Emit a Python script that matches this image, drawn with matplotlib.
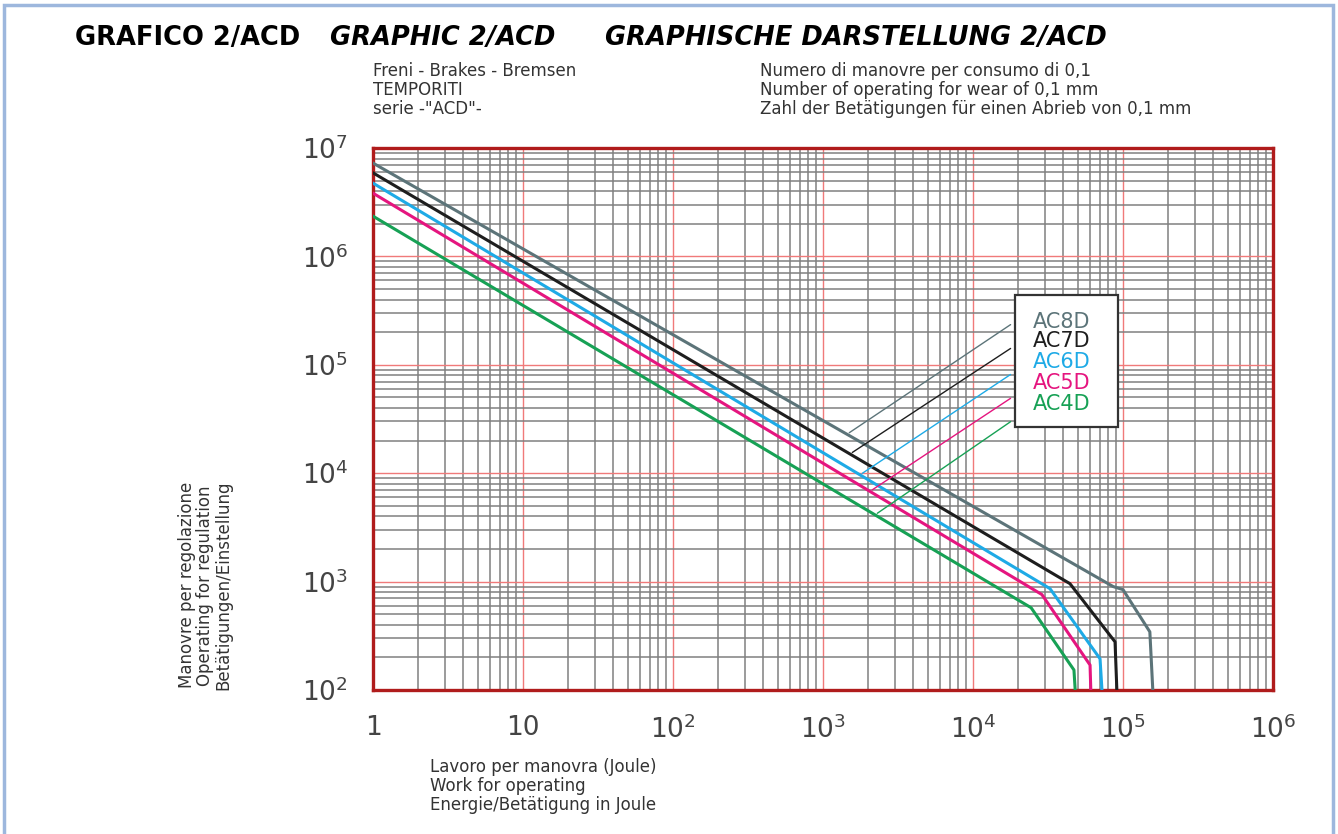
import numpy as np
import matplotlib.pyplot as plt
from matplotlib.ticker import LogLocator, NullFormatter
from matplotlib.patches import Rectangle

# curve data (work per operation [J], number of operations)
series = ['AC8D', 'AC7D', 'AC6D', 'AC5D', 'AC4D']
work_ac8d = [1, 8.6e4, 1.0e5, 1.51e5, 1.58e5]
ops_ac8d = [7.26e6, 900, 843, 344, 100]
work_ac7d = [1, 4.43e4, 8.85e4, 9.1e4]
ops_ac7d = [5.9e6, 957, 278, 100]
work_ac6d = [1, 3.26e4, 7.03e4, 7.24e4]
ops_ac6d = [4.74e6, 861, 194, 100]
work_ac5d = [1, 2.88e4, 6.03e4, 6.1e4]
ops_ac5d = [3.83e6, 759, 170, 100]
work_ac4d = [1, 2.44e4, 4.71e4, 4.8e4]
ops_ac4d = [2.35e6, 574, 153, 100]
# where the legend leader lines touch each curve
leader_work = [1445, 1513, 1765, 2056, 2222]

xtick_vals = [1, 10, 1e2, 1e3, 1e4, 1e5, 1e6]
xtick_labels = ['1', '10', '$10^2$', '$10^3$', '$10^4$', '$10^5$', '$10^6$']
ytick_vals = [1e2, 1e3, 1e4, 1e5, 1e6, 1e7]
ytick_labels = ['$10^2$', '$10^3$', '$10^4$', '$10^5$', '$10^6$', '$10^7$']

colors = ['#5c7479', '#1e1e1e', '#1eaae6', '#e5157f', '#17a155']
works = [work_ac8d, work_ac7d, work_ac6d, work_ac5d, work_ac4d]
opss = [ops_ac8d, ops_ac7d, ops_ac6d, ops_ac5d, ops_ac4d]

plt.rcParams['mathtext.default'] = 'regular'

fig = plt.figure(figsize=(13.38, 8.34), dpi=100)
ax = fig.add_axes([373/1338, 1-690/834, 900/1338, 542/834])
ax.set_xscale('log')
ax.set_yscale('log')
ax.set_xlim(1, 1e6)
ax.set_ylim(1e2, 1e7)

ax.xaxis.set_minor_locator(LogLocator(base=10, subs=range(2, 10), numticks=20))
ax.yaxis.set_minor_locator(LogLocator(base=10, subs=range(2, 10), numticks=20))
ax.xaxis.set_minor_formatter(NullFormatter())
ax.yaxis.set_minor_formatter(NullFormatter())
ax.grid(which='minor', color='#808080', lw=1.3, alpha=0.85)
ax.grid(which='major', color='#f07a7a', lw=1.0)
ax.set_axisbelow(True)

ax.set_xticks(xtick_vals)
ax.set_xticklabels(xtick_labels)
ax.set_yticks(ytick_vals)
ax.set_yticklabels(ytick_labels)
ax.tick_params(which='both', length=0)
ax.tick_params(axis='x', pad=18, labelsize=19, labelcolor='#444444')
ax.tick_params(axis='y', pad=18, labelsize=19, labelcolor='#444444')
for s in ax.spines.values():
    s.set_color('#b01c1c')
    s.set_linewidth(2.4)

for w, o, c in zip(works, opss, colors):
    ax.plot(w, o, color=c, lw=2.2, zorder=3)

# legend box with leader lines
ax.add_patch(Rectangle((0.713, 0.485), 0.115, 0.244, transform=ax.transAxes,
                       facecolor='white', edgecolor='#333333', lw=1.6, zorder=5))
text_y = [0.679, 0.643, 0.605, 0.566, 0.528]
lead_y = [0.677, 0.633, 0.585, 0.541, 0.498]
for name, c, ty, ly, lw_x, w, o in zip(series, colors, text_y, lead_y, leader_work, works, opss):
    ax.text(0.7655, ty, name, transform=ax.transAxes, color=c, fontsize=15,
            ha='center', va='center', zorder=6)
    yv = 10 ** np.interp(np.log10(lw_x), np.log10(w), np.log10(o))
    ax.annotate('', xy=(lw_x, yv), xycoords='data', xytext=(0.711, ly),
                textcoords='axes fraction',
                arrowprops=dict(arrowstyle='-', color=c, lw=1.0), zorder=4)

# titles
fig.text(75/1338, 1-38/834, 'GRAFICO 2/ACD', fontsize=18.5, fontweight='heavy',
         va='center', ha='left')
fig.text(330/1338, 1-38/834, 'GRAPHIC 2/ACD', fontsize=18.5, fontweight='heavy',
         style='italic', va='center', ha='left')
fig.text(605/1338, 1-38/834, 'GRAPHISCHE DARSTELLUNG 2/ACD', fontsize=18.5,
         fontweight='heavy', style='italic', va='center', ha='left')

fig.text(373/1338, 1-90/834, 'Freni - Brakes - Bremsen\nTEMPORITI\nserie -"ACD"-',
         fontsize=12, color='#333333', va='center', ha='left', linespacing=1.08)
fig.text(760/1338, 1-90/834,
         'Numero di manovre per consumo di 0,1\nNumber of operating for wear of 0,1 mm\n'
         'Zahl der Betätigungen für einen Abrieb von 0,1 mm',
         fontsize=12, color='#333333', va='center', ha='left', linespacing=1.08)

fig.text(430/1338, 1-786/834,
         'Lavoro per manovra (Joule)\nWork for operating\nEnergie/Betätigung in Joule',
         fontsize=12, color='#333333', va='center', ha='left', linespacing=1.05)
fig.text(205/1338, 1-690/834,
         'Manovre per regolazione\nOperating for regulation\nBetätigungen/Einstellung',
         fontsize=12, color='#333333', va='bottom', ha='center',
         rotation=90, linespacing=1.02)

# outer frame
fig.patches.append(Rectangle((0.003, -0.01), 0.993, 1.004, transform=fig.transFigure,
                             fill=False, edgecolor='#9db7dd', lw=2.5))

fig.savefig('out.png', dpi=100)
